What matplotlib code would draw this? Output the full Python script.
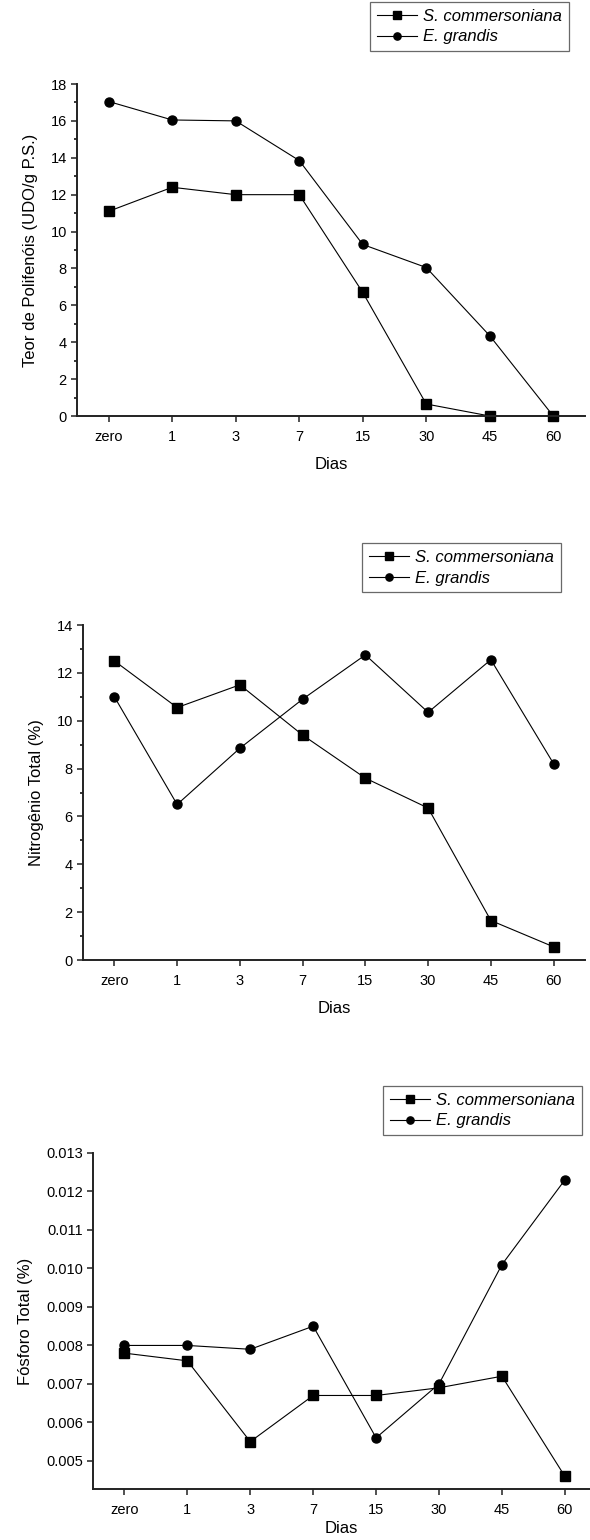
import matplotlib
matplotlib.use('Agg')
import matplotlib.pyplot as plt
from matplotlib.ticker import MultipleLocator

plt.rcParams['font.family'] = ['Liberation Sans', 'DejaVu Sans']

dias = ['zero', '1', '3', '7', '15', '30', '45', '60']
series_names = ['S. commersoniana', 'E. grandis']

# Teor de polifenois
poli_sc = [11.1, 12.4, 12.0, 12.0, 6.7, 0.65, 0.0, 0.0]
poli_eg = [17.05, 16.05, 16.0, 13.85, 9.3, 8.05, 4.35, 0.0]

# Nitrogenio total
nit_sc = [12.5, 10.55, 11.5, 9.4, 7.6, 6.35, 1.65, 0.55]
nit_eg = [11.0, 6.5, 8.85, 10.9, 12.75, 10.35, 12.55, 8.2]

# Fosforo total
fos_sc = [0.0078, 0.0076, 0.0055, 0.0067, 0.0067, 0.0069, 0.0072, 0.0046]
fos_eg = [0.0080, 0.0080, 0.0079, 0.0085, 0.0056, 0.0070, 0.0101, 0.0123]

W, H = 590, 1540
fig = plt.figure(figsize=(W / 100, H / 100), dpi=100)


def px_axes(left, top, right, bottom):
    return fig.add_axes([left / W, 1 - bottom / H, (right - left) / W, (bottom - top) / H])


def panel(ax, sc, eg, ylabel, ylim, xlim, major, minor, fmt, leg_box, xlabpad=9):
    x = list(range(len(dias)))
    l1, = ax.plot(x, sc, '-s', color='black', lw=0.8, ms=6.5, label=series_names[0])
    l2, = ax.plot(x, eg, '-o', color='black', lw=0.8, ms=6.5, label=series_names[1])
    ax.set_xlim(*xlim)
    ax.set_ylim(*ylim)
    ax.set_xticks(x)
    ax.set_xticklabels(dias)
    ax.yaxis.set_major_locator(MultipleLocator(major))
    if minor:
        ax.yaxis.set_minor_locator(MultipleLocator(minor))
    if fmt:
        ax.yaxis.set_major_formatter(fmt)
    for s in ['top', 'right']:
        ax.spines[s].set_visible(False)
    for s in ['left', 'bottom']:
        ax.spines[s].set_linewidth(1.4)
        ax.spines[s].set_color('#222222')
    ax.tick_params(direction='out', length=4.3, width=1.1, labelsize=10.5,
                   color='#222222', pad=3)
    ax.tick_params(which='minor', direction='out', length=2.2, width=1.1)
    ax.tick_params(axis='x', pad=6)
    ax.set_xlabel('Dias', fontsize=12, labelpad=xlabpad)
    ax.set_ylabel(ylabel, fontsize=12, labelpad=9)
    lx0, ly0, lx1, ly1 = leg_box
    leg = fig.legend([l1, l2], series_names, loc='upper left',
                     bbox_to_anchor=(lx0 / W, 1 - ly0 / H),
                     frameon=True, fancybox=False, edgecolor='#444444',
                     handlelength=2.4, handletextpad=0.4, markerscale=0.8,
                     borderpad=0.4, labelspacing=0.35, borderaxespad=0,
                     prop={'style': 'italic', 'size': 12})
    leg.get_frame().set_linewidth(0.9)
    for line in ax.get_lines():
        line.set_clip_on(False)


ax1 = px_axes(77, 84, 585, 416)
panel(ax1, poli_sc, poli_eg, 'Teor de Polifenóis (UDO/g P.S.)', (0, 18), (-0.5, 7.5),
      2, 1, None, (370, 2, 582, 58))

ax2 = px_axes(83, 625, 585, 960)
panel(ax2, nit_sc, nit_eg, 'Nitrogênio Total (%)', (0, 14), (-0.5, 7.5),
      2, 1, None, (362, 543, 574, 600))

ax3 = px_axes(93, 1153, 590, 1489)
panel(ax3, fos_sc, fos_eg, 'Fósforo Total (%)', (0.00427, 0.013), (-0.5, 7.4),
      0.001, None, lambda v, p: f'{v:.3f}', (383, 1086, 590, 1140), xlabpad=3)

fig.savefig('out.png', dpi=100)
